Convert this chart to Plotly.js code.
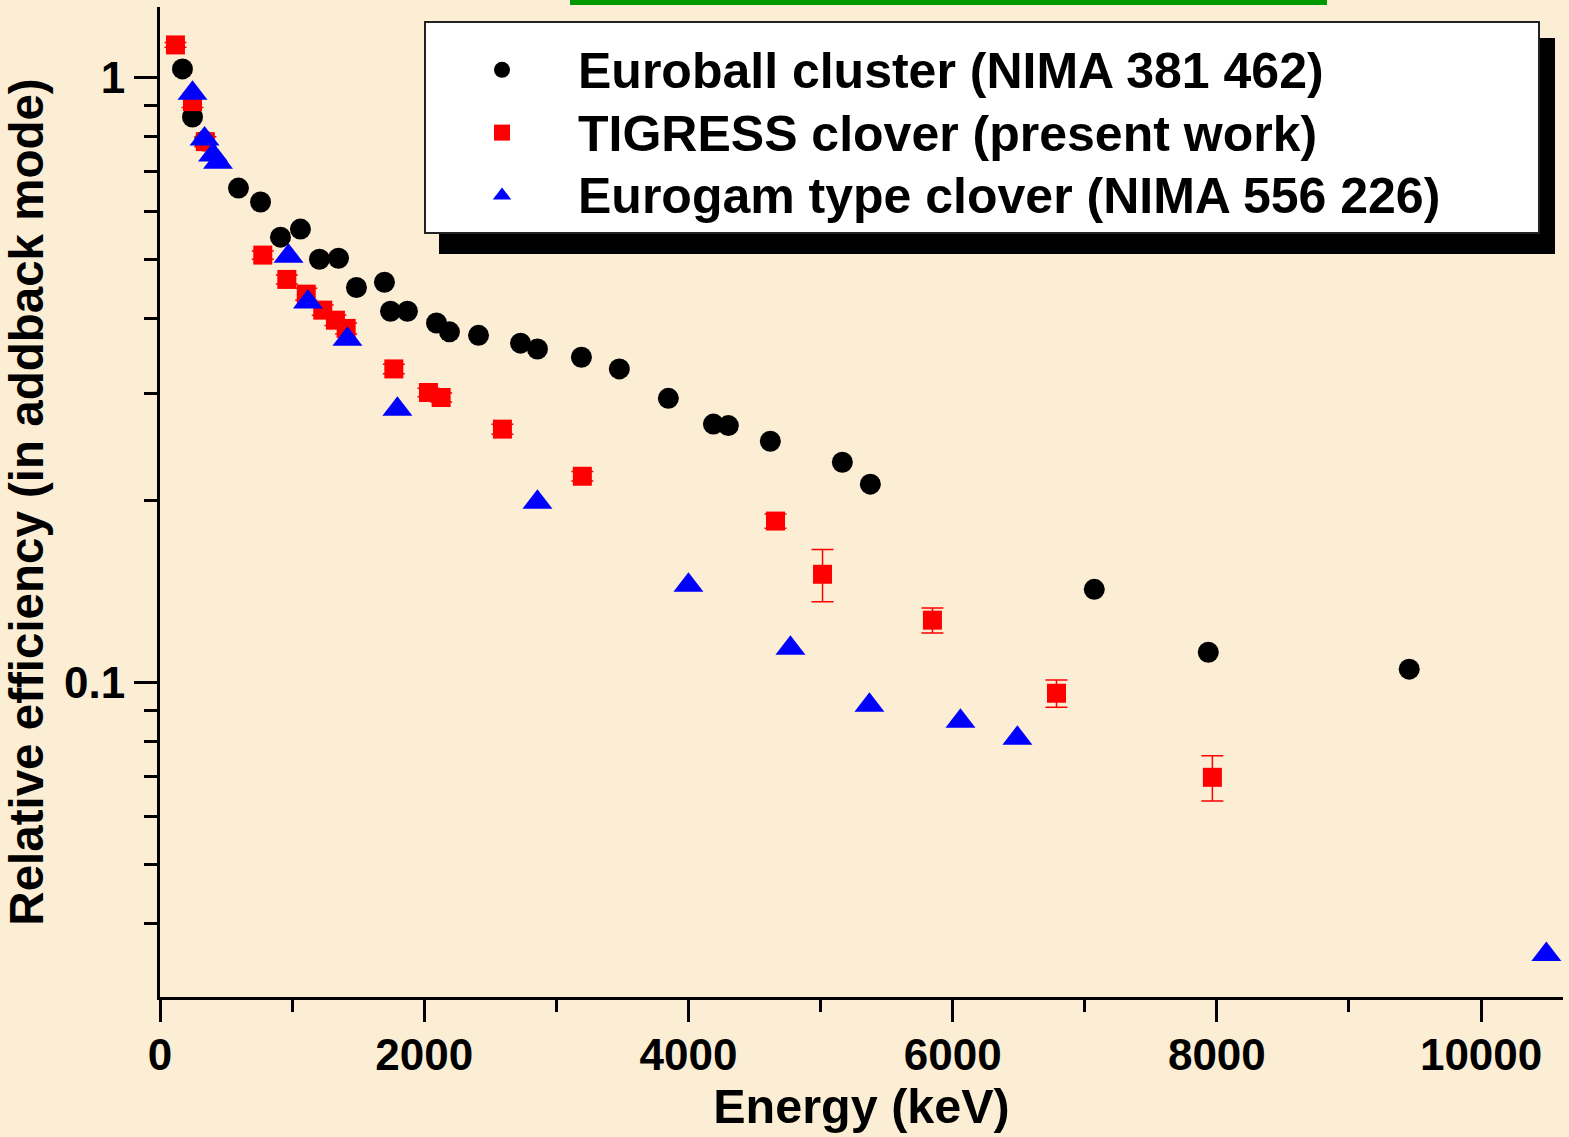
<!DOCTYPE html>
<html>
<head>
<meta charset="utf-8">
<script src="https://cdn.plot.ly/plotly-3.0.1.min.js"></script>
<style>
  html, body { margin: 0; padding: 0; background: #fbeed5; }
  #chart { width: 1569px; height: 1137px; }
</style>
</head>
<body>
<div id="chart"></div>
<script>
// Euroball cluster (NIMA 381 462)
const euroballEnergy = [170, 246, 337, 594, 761, 912, 1063, 1207, 1351, 1487, 1699, 1745, 1873, 2093, 2191, 2411, 2729, 2857, 3190, 3477, 3848, 4189, 4302, 4620, 5165, 5377, 7072, 7935, 9456];
const euroballEff = [1.034, 0.861, 0.786, 0.657, 0.623, 0.545, 0.562, 0.501, 0.503, 0.450, 0.459, 0.411, 0.411, 0.393, 0.380, 0.375, 0.364, 0.356, 0.345, 0.330, 0.295, 0.2675, 0.266, 0.2506, 0.2313, 0.2128, 0.1426, 0.1122, 0.1052];

// TIGRESS clover (present work)
const tigressEnergy = [117, 246, 343, 778, 960, 1107, 1232, 1328, 1409, 1770, 2032, 2128, 2592, 3197, 4659, 5015, 5847, 6786, 7966];
const tigressEff = [1.133, 0.913, 0.784, 0.509, 0.464, 0.4387, 0.4128, 0.3973, 0.385, 0.330, 0.3017, 0.296, 0.2624, 0.2193, 0.1849, 0.151, 0.1268, 0.0960, 0.0697];
const tigressErr = [0.010, 0.020, 0.015, 0.008, 0.008, 0.010, 0.008, 0.008, 0.008, 0.006, 0.005, 0.005, 0.005, 0.004, 0.005, 0.015, 0.006, 0.005, 0.006];

// Eurogam type clover (NIMA 556 226)
const eurogamEnergy = [246, 337, 401, 439, 973, 1120, 1419, 1797, 2857, 4000, 4772, 5370, 6059, 6490, 10494];
const eurogamEff = [0.943, 0.792, 0.745, 0.725, 0.507, 0.4256, 0.3696, 0.2831, 0.1987, 0.1448, 0.1139, 0.0917, 0.0863, 0.0809, 0.0355];

const seriesNames = ['Euroball cluster (NIMA 381 462)', 'TIGRESS clover (present work)', 'Eurogam type clover (NIMA 556 226)'];
const xTitle = 'Energy (keV)';
const yTitle = 'Relative efficiency (in addback mode)';
const yMajorTicks = [0.1, 1];
const yMajorLabels = ['0.1', '1'];
const yMinorTicks = [0.04, 0.05, 0.06, 0.07, 0.08, 0.09, 0.2, 0.3, 0.4, 0.5, 0.6, 0.7, 0.8, 0.9];

const FONT = '"Liberation Sans", Arial, Helvetica, sans-serif';
const BG = '#fbeed5';
const legendLabel = s => '<span style="font-size:50px">' + s + '</span>';

const traces = [
  {
    type: 'scatter', mode: 'markers', name: legendLabel(seriesNames[0]),
    x: euroballEnergy, y: euroballEff,
    marker: { symbol: 'circle', size: 21, color: '#000000' },
    cliponaxis: false
  },
  {
    type: 'scatter', mode: 'markers', name: legendLabel(seriesNames[1]),
    x: tigressEnergy, y: tigressEff,
    error_y: { type: 'data', array: tigressErr, visible: true, color: '#ff0000', thickness: 1.5, width: 11 },
    marker: { symbol: 'square', size: 19, color: '#ff0000' },
    cliponaxis: false
  },
  {
    type: 'scatter', mode: 'markers', name: legendLabel(seriesNames[2]),
    x: eurogamEnergy, y: eurogamEff,
    marker: { symbol: 'triangle-up', size: 26, color: '#0000ff' },
    cliponaxis: false
  }
];

const L = 160, R = 6, T = 7, B = 140;
const W = 1569, H = 1137;
const pw = W - L - R, ph = H - T - B;
const px = v => (v - L) / pw;
const py = v => (H - B - v) / ph;

const layout = {
  width: W, height: H,
  paper_bgcolor: BG, plot_bgcolor: BG,
  margin: { l: L, r: R, t: T, b: B, pad: 0 },
  font: { family: FONT, color: '#000000', size: 44, weight: 'bold' },
  showlegend: true,
  legend: {
    x: px(424), y: py(21), xanchor: 'left', yanchor: 'top',
    orientation: 'h', entrywidth: 955, entrywidthmode: 'pixels',
    bgcolor: '#ffffff', bordercolor: '#222222', borderwidth: 2,
    font: { family: FONT, size: 46, color: '#000000', weight: 'bold' },
    title: { text: ' ', side: 'top', font: { size: 8 } },
    itemsizing: 'trace', itemwidth: 142,
    tracegroupgap: 0
  },
  xaxis: {
    range: [0, 10620],
    showline: true, linecolor: '#000000', linewidth: 3,
    showgrid: false, zeroline: false,
    ticks: 'outside', ticklen: 22, tickwidth: 3, tickcolor: '#000000',
    tickmode: 'linear', tick0: 0, dtick: 2000,
    tickformat: 'd', ticklabelstandoff: -5,
    minor: { tickmode: 'linear', tick0: 0, dtick: 1000, ticks: 'outside', ticklen: 12, tickwidth: 3, tickcolor: '#000000', showgrid: false },
    tickfont: { family: FONT, size: 44, weight: 'bold' },
    title: { text: xTitle, font: { family: FONT, size: 48.5, weight: 'bold' }, standoff: 12 }
  },
  yaxis: {
    type: 'log',
    range: [Math.log10(0.0302), Math.log10(1.309)],
    showline: true, linecolor: '#000000', linewidth: 3,
    showgrid: false, zeroline: false,
    ticks: 'outside', ticklen: 23, tickwidth: 3, tickcolor: '#000000',
    tickmode: 'array', tickvals: yMajorTicks, ticktext: yMajorLabels,
    minor: { tickmode: 'array', tickvals: yMinorTicks, ticks: 'outside', ticklen: 13, tickwidth: 3, tickcolor: '#000000', showgrid: false },
    tickfont: { family: FONT, size: 44, weight: 'bold' },
    title: { text: yTitle, font: { family: FONT, size: 47.5, weight: 'bold' }, standoff: 10 }
  },
  shapes: [
    // legend drop shadow
    { type: 'rect', xref: 'paper', yref: 'paper', layer: 'above',
      x0: px(439), x1: px(1555), y0: py(254), y1: py(38),
      fillcolor: '#000000', line: { width: 0 } },
    // green bar at top edge
    { type: 'rect', xref: 'paper', yref: 'paper', layer: 'above',
      x0: px(570), x1: px(1327), y0: py(5), y1: py(0),
      fillcolor: '#009900', line: { width: 0 } }
  ]
};

Plotly.newPlot('chart', traces, layout, { displayModeBar: false, staticPlot: true });
</script>
</body>
</html>
